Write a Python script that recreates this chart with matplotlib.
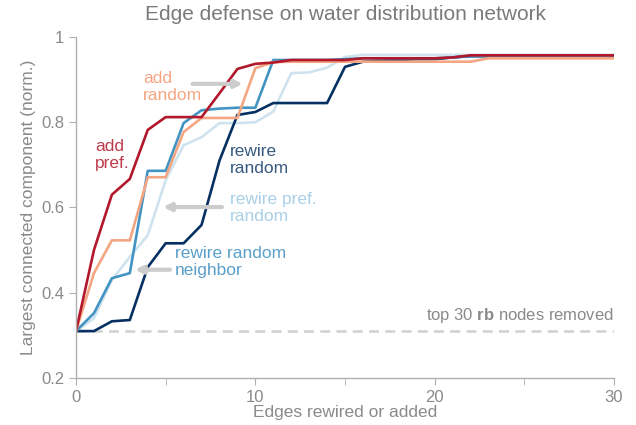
import matplotlib

matplotlib.use("Agg")
import matplotlib.pyplot as plt
import numpy as np

plt.rcParams["font.family"] = ["Liberation Sans", "DejaVu Sans"]
plt.rcParams["mathtext.fontset"] = "custom"
plt.rcParams["mathtext.rm"] = "Liberation Sans"
plt.rcParams["mathtext.bf"] = "Liberation Sans:bold"

edges = np.arange(31)

add_pref = [0.31, 0.50, 0.63, 0.667, 0.782, 0.812, 0.812, 0.812, 0.868, 0.925,
            0.937, 0.940, 0.946, 0.946, 0.946, 0.946, 0.950, 0.950, 0.950, 0.950,
            0.950, 0.952, 0.957, 0.957, 0.957, 0.957, 0.957, 0.957, 0.957, 0.957, 0.957]
add_random = [0.31, 0.446, 0.523, 0.523, 0.671, 0.671, 0.777, 0.810, 0.810, 0.810,
              0.927, 0.941, 0.942, 0.942, 0.942, 0.942, 0.942, 0.942, 0.942, 0.942,
              0.942, 0.942, 0.942, 0.950, 0.950, 0.950, 0.950, 0.950, 0.950, 0.950, 0.950]
rewire_neighbor = [0.31, 0.352, 0.434, 0.446, 0.686, 0.686, 0.798, 0.828, 0.832, 0.834,
                   0.834, 0.946, 0.946, 0.946, 0.946, 0.948, 0.950, 0.950, 0.950, 0.950,
                   0.950, 0.952, 0.955, 0.955, 0.955, 0.955, 0.955, 0.955, 0.955, 0.955, 0.955]
rewire_pref_random = [0.31, 0.34, 0.43, 0.484, 0.535, 0.664, 0.746, 0.765, 0.798, 0.798,
                      0.800, 0.825, 0.915, 0.917, 0.928, 0.953, 0.958, 0.958, 0.958, 0.958,
                      0.958, 0.958, 0.958, 0.958, 0.958, 0.958, 0.958, 0.958, 0.958, 0.958, 0.958]
rewire_random = [0.31, 0.31, 0.333, 0.336, 0.46, 0.516, 0.516, 0.559, 0.71, 0.817,
                 0.824, 0.845, 0.845, 0.845, 0.845, 0.930, 0.942, 0.944, 0.946, 0.948,
                 0.948, 0.952, 0.955, 0.955, 0.955, 0.955, 0.955, 0.955, 0.955, 0.955, 0.955]
baseline = 0.31

gray = "#8a8a8a"
c_red, c_orange, c_blue, c_light, c_navy = "#b2182b", "#f4a582", "#4393c3", "#cfe3ef", "#053061"

fig = plt.figure(figsize=(6.36, 4.25), dpi=100)
ax = fig.add_axes([0.1195, 0.1106, 0.846, 0.8024])

ax.axhline(baseline, color="#d0d0d0", lw=1.8, ls=(0, (4, 2.5)), zorder=1)
lw = 1.9
ax.plot(edges, rewire_pref_random, color=c_light, lw=lw)
ax.plot(edges, rewire_random, color=c_navy, lw=lw)
ax.plot(edges, rewire_neighbor, color=c_blue, lw=lw)
ax.plot(edges, add_random, color=c_orange, lw=lw)
ax.plot(edges, add_pref, color=c_red, lw=lw)

fs = 12.5
ls = 1.2
ax.text(3.74, 0.883, "add\nrandom", color=c_orange, fontsize=fs, va="center", ha="left", linespacing=ls)
ax.text(1.06, 0.723, "add\npref.", color=c_red, fontsize=fs, va="center", ha="left", linespacing=ls, alpha=0.85)
ax.text(8.59, 0.712, "rewire\nrandom", color=c_navy, fontsize=fs, va="center", ha="left", linespacing=ls, alpha=0.8)
ax.text(8.59, 0.599, "rewire pref.\nrandom", color="#a9d0e6", fontsize=fs, va="center", ha="left", linespacing=ls)
ax.text(5.52, 0.472, "rewire random\nneighbor", color="#5a9fca", fontsize=fs, va="center", ha="left", linespacing=ls)

arrow = dict(arrowstyle="-|>", color="#cccccc", lw=3, mutation_scale=11, shrinkA=0, shrinkB=0)
ax.annotate("", xy=(9.3, 0.89), xytext=(6.5, 0.89), arrowprops=arrow)
ax.annotate("", xy=(4.85, 0.601), xytext=(8.14, 0.601), arrowprops=arrow)
ax.annotate("", xy=(3.29, 0.454), xytext=(5.24, 0.454), arrowprops=arrow)

ax.text(30, 0.347, r"top 30 $\mathbf{rb}$ nodes removed", color=gray, fontsize=12, ha="right", va="center")

ax.set_xlim(0, 30)
ax.set_ylim(0.2, 1)
ax.set_xticks([0, 10, 20, 30])
ax.set_xticks([5, 15, 25], minor=True)
ax.set_yticks([0.2, 0.4, 0.6, 0.8, 1.0])
ax.set_yticklabels(["0.2", "0.4", "0.6", "0.8", "1"])
for s in ["top", "right"]:
    ax.spines[s].set_visible(False)
for s in ["left", "bottom"]:
    ax.spines[s].set_color("#b0b0b0")
    ax.spines[s].set_linewidth(1.0)
ax.tick_params(which="both", colors="#b0b0b0", labelcolor=gray, labelsize=12, length=5)
ax.tick_params(axis="x", pad=4)

ax.set_xlabel("Edges rewired or added", color=gray, fontsize=12.5, labelpad=0)
ax.set_ylabel("Largest connected component (norm.)", color=gray, fontsize=12.5, labelpad=4)
ax.set_title("Edge defense on water distribution network", color="#7a7a7a", fontsize=15, pad=12)

fig.savefig("out.png", dpi=100)
